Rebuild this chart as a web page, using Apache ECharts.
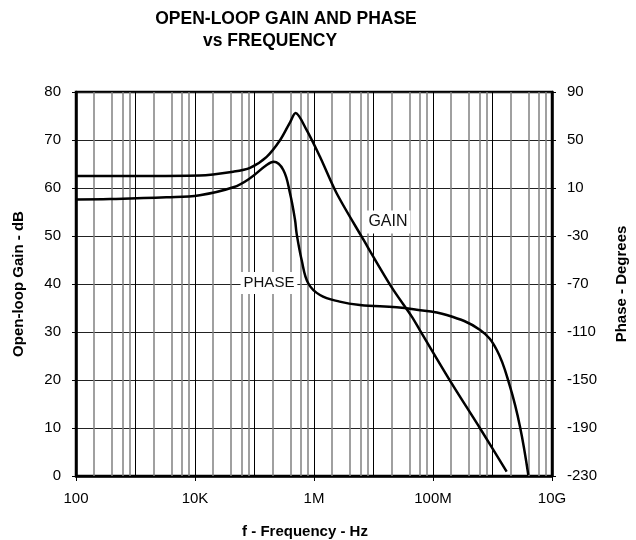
<!DOCTYPE html>
<html>
<head>
<meta charset="utf-8">
<script src="https://cdn.jsdelivr.net/npm/echarts@6/dist/echarts.min.js"></script>
<style>
  body { margin: 0; padding: 0; background: #fff; }
  #chart { width: 636px; height: 540px; }
</style>
</head>
<body>
<div id="chart"></div>
<script>
// values
var gainFreq = [100, 1e3, 1.2e4, 4.4e4, 8.4e4, 1.6e5, 2.7e5, 4e5, 4.9e5, 7.5e5, 1.26e6, 2.4e6, 6.3e6, 2e7, 4.4e7, 6e7, 2.06e8, 6.2e8, 1.73e9];
var gainDb = [62.5, 62.5, 62.6, 63.4, 64.2, 66.5, 70.0, 73.8, 75.6, 72.1, 66.5, 58.9, 49.9, 39.4, 33.2, 30.4, 19.3, 9.9, 0.9];

var phaseFreq = [100, 373, 3.3e3, 1.2e4, 4.4e4, 8.4e4, 1.6e5, 2.1e5, 3.05e5, 3.95e5, 4.8e5, 5.1e5, 6.2e5, 8e5, 1.26e6, 2.7e6, 5.9e6, 2.45e7, 4.7e7, 1.7e8, 6.2e8, 1.18e9, 1.97e9, 2.9e9, 4e9];
var phaseDeg = [0.5, 0.8, 2.2, 4.0, 10.6, 18.1, 29.2, 31.9, 25, 5.6, -16.7, -27.8, -50, -69.4, -79.2, -84.7, -87.5, -89.4, -91.1, -95.8, -108.3, -125, -155.6, -188.9, -229.2];

var xTickValues = [1e2, 1e4, 1e6, 1e8, 1e10];
var xTickLabels = ["100", "10K", "1M", "100M", "10G"];

var FONT = "'Liberation Sans', Arial, sans-serif";

// minor log grid lines (2, 4, 6, 8 in every decade)
var minorLines = [];
for (var k = 2; k < 10; k++) {
  [2, 4, 6, 8].forEach(function (m) {
    minorLines.push({ xAxis: m * Math.pow(10, k) });
  });
}

function pairs(xs, ys) {
  return xs.map(function (x, i) { return [x, ys[i]]; });
}

var chart = echarts.init(document.getElementById("chart"));
chart.setOption({
  animation: false,
  textStyle: { fontFamily: FONT, color: "#000" },
  title: [
    {
      text: "OPEN-LOOP GAIN AND PHASE",
      left: 281, top: 5, textAlign: "center",
      textStyle: { fontFamily: FONT, fontSize: 17.5, fontWeight: "bold", color: "#000" }
    },
    {
      text: "vs FREQUENCY",
      left: 265, top: 27, textAlign: "center",
      textStyle: { fontFamily: FONT, fontSize: 17.5, fontWeight: "bold", color: "#000" }
    }
  ],
  grid: {
    left: 76, right: 84, top: 92, bottom: 64,
    outerBoundsMode: "none",
    containLabel: false,
    show: true, borderColor: "#000", borderWidth: 2.5
  },
  xAxis: [
    {
      // decade grid lines
      type: "log", logBase: 10, min: 100, max: 1e10,
      position: "bottom",
      axisLine: { show: false, onZero: false },
      axisTick: { show: false },
      axisLabel: { show: false },
      splitLine: { show: true, lineStyle: { color: "#000", width: 1 } },
      name: "f - Frequency - Hz",
      nameLocation: "middle",
      nameGap: 48,
      nameTextStyle: { fontFamily: FONT, fontSize: 15, fontWeight: "bold", color: "#000", padding: [0, 18, 0, 0] }
    },
    {
      // labels every two decades
      type: "log", logBase: 100, min: 100, max: 1e10,
      position: "bottom",
      axisLine: { show: true, onZero: false, lineStyle: { color: "#000", width: 2.5 } },
      axisTick: { show: true, inside: false, length: 5, lineStyle: { color: "#000", width: 1 } },
      axisLabel: {
        show: true, fontSize: 15, color: "#000", fontFamily: FONT, margin: 15,
        showMinLabel: true, showMaxLabel: true,
        formatter: function (v) {
          var e = Math.round(Math.log10(v));
          for (var i = 0; i < xTickValues.length; i++) {
            if (Math.round(Math.log10(xTickValues[i])) === e) return xTickLabels[i];
          }
          return "";
        }
      },
      splitLine: { show: false }
    }
  ],
  yAxis: [
    {
      type: "value", min: 0, max: 80, interval: 10,
      position: "left",
      axisLine: { show: true, onZero: false, lineStyle: { color: "#000", width: 2.5 } },
      axisTick: { show: true, inside: false, length: 4, lineStyle: { color: "#000" } },
      axisLabel: { fontSize: 15, color: "#000", fontFamily: FONT, margin: 15 },
      splitLine: { show: true, lineStyle: { color: "#222", width: 1 } },
      name: "Open-loop Gain - dB",
      nameLocation: "middle",
      nameRotate: 90,
      nameGap: 50,
      nameTextStyle: { fontFamily: FONT, fontSize: 15, fontWeight: "bold", color: "#000" }
    },
    {
      type: "value", min: -230, max: 90, interval: 40,
      position: "right",
      axisLine: { show: true, onZero: false, lineStyle: { color: "#000", width: 2.5 } },
      axisTick: { show: true, inside: false, length: 4, lineStyle: { color: "#000" } },
      axisLabel: { fontSize: 15, color: "#000", fontFamily: FONT, margin: 15 },
      splitLine: { show: false },
      name: "Phase - Degrees",
      nameLocation: "middle",
      nameRotate: 90,
      nameGap: 62,
      nameTextStyle: { fontFamily: FONT, fontSize: 15, fontWeight: "bold", color: "#000" }
    }
  ],
  series: [
    {
      name: "GAIN",
      type: "line",
      xAxisIndex: 0, yAxisIndex: 0,
      data: pairs(gainFreq, gainDb),
      showSymbol: false,
      smooth: 0.3,
      z: 3,
      lineStyle: { color: "#000", width: 2.5 },
      markLine: {
        silent: true,
        z: 1,
        symbol: ["none", "none"],
        label: { show: false },
        lineStyle: { color: "#808080", width: 1.5, type: "solid" },
        data: minorLines
      },
      markPoint: {
        silent: true,
        symbol: "rect",
        symbolSize: 0,
        label: {
          show: true, position: "inside", formatter: "GAIN",
          fontFamily: FONT, fontSize: 16, color: "#111",
          backgroundColor: "#fff", padding: [4, 3, 3, 3]
        },
        data: [{ coord: [1.75e7, 52.9] }]
      }
    },
    {
      name: "PHASE",
      type: "line",
      xAxisIndex: 0, yAxisIndex: 1,
      data: pairs(phaseFreq, phaseDeg),
      showSymbol: false,
      smooth: 0.4,
      z: 3,
      lineStyle: { color: "#000", width: 2.5 },
      markPoint: {
        silent: true,
        symbol: "rect",
        symbolSize: 0,
        label: {
          show: true, position: "inside", formatter: "PHASE",
          fontFamily: FONT, fontSize: 15, color: "#111",
          backgroundColor: "#fff", padding: [4, 3, 3, 3]
        },
        data: [{ coord: [1.75e5, -69.2] }]
      }
    }
  ]
});
</script>
</body>
</html>
